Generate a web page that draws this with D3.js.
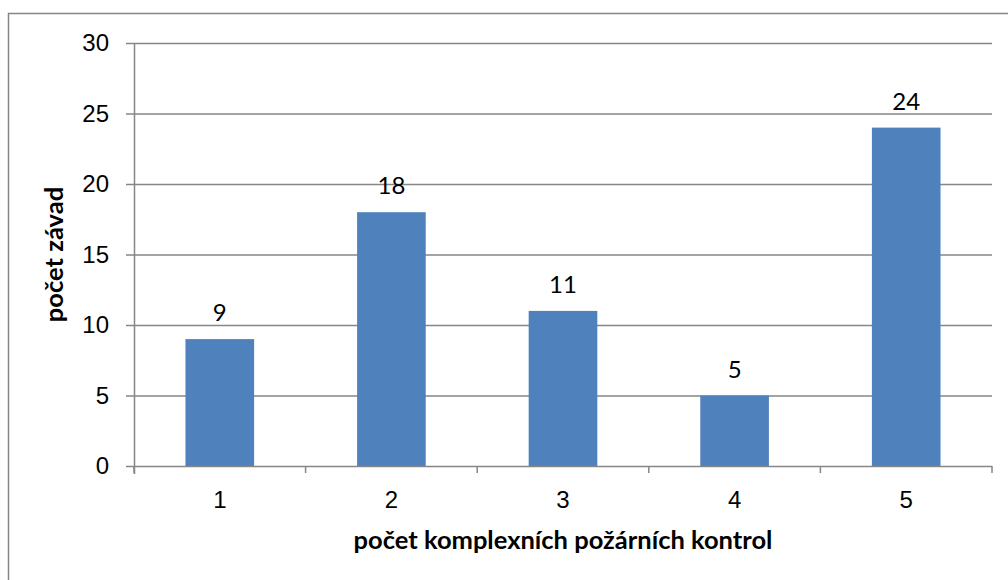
<!DOCTYPE html>
<html>
<head>
<meta charset="utf-8">
<script src="https://cdn.jsdelivr.net/npm/d3@7"></script>
<style>
  body { margin: 0; background: #fff; }
  svg { display: block; font-family: Lato, "Open Sans", sans-serif; }
  .axis path, .axis line { stroke: #868686; }
  .axis text { fill: #000; font-size: 24px; }
</style>
</head>
<body>
<div class="layout"></div>
<script>
var categories = ["1", "2", "3", "4", "5"];
var values = [9, 18, 11, 5, 24];
var yTicks = [0, 5, 10, 15, 20, 25, 30];
var xTitle = "počet komplexních požárních kontrol";
var yTitle = "počet závad";

var W = 1008, H = 580;
var margin = {top: 43, right: 16, bottom: 114, left: 134},
    width = W - margin.left - margin.right,
    height = H - margin.top - margin.bottom;

var svg = d3.select(".layout").append("svg")
        .attr("width", W)
        .attr("height", H);

// outer chart border (cut by the picture on the right and bottom)
svg.append("rect")
        .attr("x", 8.5).attr("y", 13.5)
        .attr("width", 1100).attr("height", 700)
        .attr("fill", "none")
        .attr("stroke", "#868686")
        .attr("stroke-width", 1.5);

var g = svg.append("g")
        .attr("transform", "translate(" + margin.left + "," + margin.top + ")");

var xCat = d3.scaleBand().domain(categories).range([0, width]).padding(0);
var x = d3.scaleBand().domain(categories).range([0, width])
        .paddingInner(0.6).paddingOuter(0.3);
var y = d3.scaleLinear().domain([0, 30]).range([height, 0]);

// gridlines
g.append("g")
        .selectAll("line")
        .data(yTicks.filter(function(d) { return d > 0; }))
        .join("line")
        .attr("x1", 0).attr("x2", width)
        .attr("y1", function(d) { return y(d) + 0.5; })
        .attr("y2", function(d) { return y(d) + 0.5; })
        .attr("stroke", "#868686")
        .attr("stroke-width", 1.5);

// bars
g.append("g")
        .selectAll("rect")
        .data(values)
        .join("rect")
        .attr("x", function(d, i) { return x(categories[i]); })
        .attr("y", function(d) { return y(d); })
        .attr("width", x.bandwidth())
        .attr("height", function(d) { return height - y(d); })
        .attr("fill", "#4f81bd");

// value labels
g.append("g")
        .selectAll("text")
        .data(values)
        .join("text")
        .attr("x", function(d, i) { return x(categories[i]) + x.bandwidth() / 2; })
        .attr("y", function(d) { return y(d) - 18; })
        .attr("text-anchor", "middle")
        .attr("font-size", 24)
        .text(function(d) { return d; });

// y axis
var yAxis = d3.axisLeft(y).tickValues(yTicks).tickSize(8).tickPadding(17);
g.append("g")
        .attr("class", "y axis")
        .call(yAxis)
        .call(function(s) {
            s.select(".domain").attr("d", "M0.5," + (height + 8) + "V0").attr("stroke-width", 1.5);
            s.selectAll(".tick line").attr("stroke-width", 1.5);
        });

// x axis: labels centred in categories, ticks on category boundaries
var xAxis = d3.axisBottom(xCat).tickSize(0).tickPadding(25);
g.append("g")
        .attr("class", "x axis")
        .attr("transform", "translate(0," + height + ")")
        .call(xAxis)
        .call(function(s) {
            s.select(".domain").attr("d", "M0," + 0.5 + "H" + width).attr("stroke-width", 1.5);
        });

g.append("g")
        .selectAll("line")
        .data(d3.range(categories.length + 1))
        .join("line")
        .attr("x1", function(i) { return i * xCat.step(); })
        .attr("x2", function(i) { return i * xCat.step(); })
        .attr("y1", height)
        .attr("y2", height + 7)
        .attr("stroke", "#868686")
        .attr("stroke-width", 1.5);

// axis titles
svg.append("text")
        .attr("x", margin.left + width / 2)
        .attr("y", 549)
        .attr("text-anchor", "middle")
        .attr("font-size", 25.5)
        .attr("font-weight", "bold")
        .text(xTitle);

svg.append("text")
        .attr("transform", "translate(63," + (margin.top + height / 2) + ") rotate(-90)")
        .attr("text-anchor", "middle")
        .attr("font-size", 25.5)
        .attr("font-weight", "bold")
        .text(yTitle);
</script>
</body>
</html>
